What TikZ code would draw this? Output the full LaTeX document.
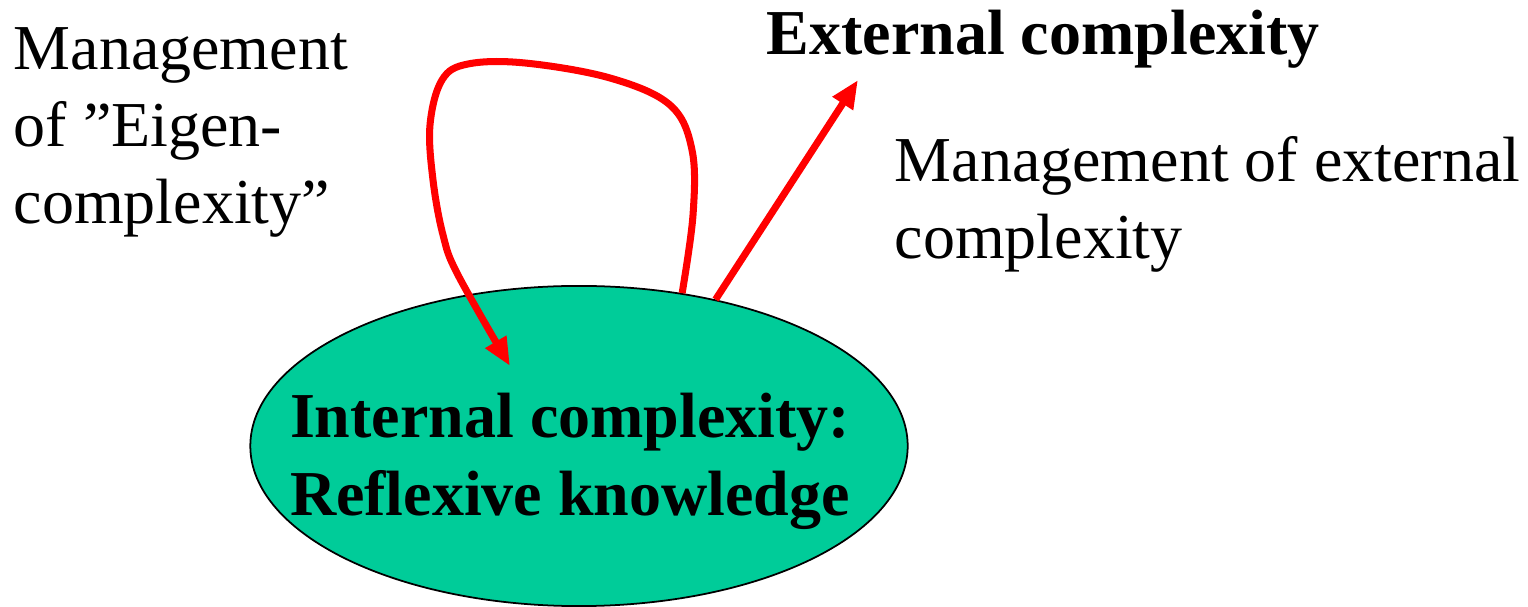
\documentclass[tikz,border=0pt]{standalone}
\usepackage{fontspec}
\setmainfont{Liberation Serif}
\usetikzlibrary{shapes.geometric,arrows.meta}
\definecolor{blobgreen}{RGB}{0,204,153}
\begin{document}
\begin{tikzpicture}[x=0.01cm,y=-0.01cm,
  txt/.style={inner sep=0pt, font=\fontsize{18.2}{21.9}\selectfont, align=left, anchor=base west},
  btxt/.style={inner sep=0pt, font=\fontsize{18.2}{21.9}\selectfont\bfseries, align=center},
  redarrow/.style={draw=red, line width=2pt, -{Triangle[length=8pt,width=6.5pt]}},
  blob/.style={ellipse, draw=black, line width=0.5pt, fill=blobgreen, inner sep=0pt,
    minimum width=6.57cm, minimum height=3.2cm}]
\useasboundingbox (0,0) rectangle (1528,607);
\node[blob] (int) at (579,446) {};
\node[btxt, anchor=base] (intlabel) at (570,515) {Internal complexity:\\Reflexive knowledge};
\node[txt] (eigen) at (13,224) {Management\\of ”Eigen-\\complexity”};
\node[txt, font=\fontsize{18.2}{21.9}\selectfont\bfseries] (ext) at (766,55) {External complexity};
\node[txt] (extmgmt) at (894,259) {Management of external\\complexity};
\coordinate (looptip) at (510,366);
\coordinate (exttip) at (858,80);
\draw[redarrow] plot[smooth, tension=0.6] coordinates {(int.56) (693,215) (692,150) (670,105) (610,78) (525,63) (468,64) (442,80) (430,125) (433,180) (443,235) (458,275) (looptip)};
\draw[redarrow] (int.47) -- (exttip);
\end{tikzpicture}
\end{document}
